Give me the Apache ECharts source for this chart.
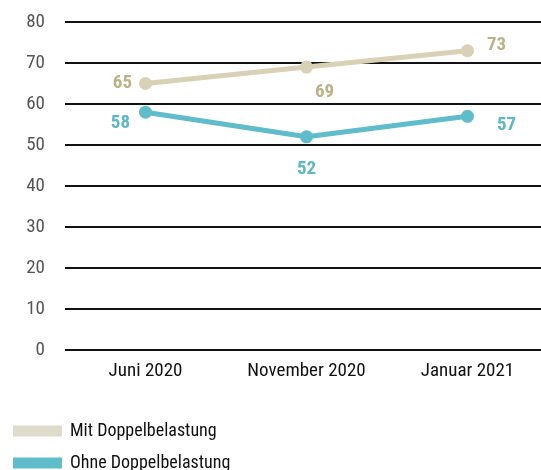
<!DOCTYPE html>
<html>
<head>
<meta charset="utf-8">
<script src="https://cdn.jsdelivr.net/npm/echarts@6/dist/echarts.min.js"></script>
<style>
  html, body { margin: 0; padding: 0; background: #fff; }
  #chart { width: 541px; height: 470px; }
</style>
</head>
<body>
<div id="chart"></div>
<script>
const categories = ['Juni 2020', 'November 2020', 'Januar 2021'];
const mitDoppel = [65, 69, 73];
const ohneDoppel = [58, 52, 57];
const yTicks = [0, 10, 20, 30, 40, 50, 60, 70, 80];

const FONT = '"Liberation Sans Narrow", "Roboto Condensed", "DejaVu Sans Condensed", sans-serif';
const MIT_LINE = '#d8d1b6', MIT_TEXT = '#bdb286';
const OHNE_LINE = '#5fbccb', OHNE_TEXT = '#5ab8c8';

// label placement per point (position + offset)
const mitLabels = [
  {position: 'left', offset: [-2, 0]},
  {position: 'bottom', offset: [18, 4]},
  {position: 'right', offset: [8, -5]}
];
const ohneLabels = [
  {position: 'left', offset: [-4, 11]},
  {position: 'bottom', offset: [0, 11]},
  {position: 'right', offset: [18, 9]}
];

function build(values, labels) {
  return values.map((v, i) => ({value: v, label: labels[i]}));
}

const legendText = {fontFamily: FONT, fontSize: 18, color: '#111', padding: [0, 0, 0, 3]};

const chart = echarts.init(document.getElementById('chart'));
chart.setOption({
  animation: false,
  textStyle: {fontFamily: FONT},
  grid: {left: 65, top: 22, right: -7, height: 328, outerBoundsMode: 'none'},
  legend: [
    {
      left: 8, top: 417, itemWidth: 49, itemHeight: 11, icon: 'rect',
      textStyle: legendText,
      data: [{name: 'Mit Doppelbelastung', itemStyle: {color: '#e0dccb'}}]
    },
    {
      left: 8, top: 449, itemWidth: 49, itemHeight: 11, icon: 'rect',
      textStyle: legendText,
      data: [{name: 'Ohne Doppelbelastung', itemStyle: {color: OHNE_LINE}}]
    }
  ],
  xAxis: {
    type: 'category', data: categories, boundaryGap: true,
    axisLine: {show: false}, axisTick: {show: false},
    axisLabel: {fontFamily: FONT, fontSize: 19, color: '#111', margin: 12}
  },
  yAxis: {
    type: 'value', min: yTicks[0], max: yTicks[yTicks.length - 1], interval: 10,
    axisLine: {show: false}, axisTick: {show: false},
    axisLabel: {fontFamily: FONT, fontSize: 19, color: '#555', margin: 20},
    splitLine: {lineStyle: {color: '#111', width: 2}}
  },
  series: [
    {
      name: 'Mit Doppelbelastung', type: 'line', data: build(mitDoppel, mitLabels),
      lineStyle: {color: MIT_LINE, width: 5}, itemStyle: {color: MIT_LINE},
      symbol: 'circle', symbolSize: 13,
      label: {show: true, color: MIT_TEXT, fontWeight: 'bold', fontSize: 19, fontFamily: FONT}
    },
    {
      name: 'Ohne Doppelbelastung', type: 'line', data: build(ohneDoppel, ohneLabels),
      lineStyle: {color: OHNE_LINE, width: 5}, itemStyle: {color: OHNE_LINE},
      symbol: 'circle', symbolSize: 13,
      label: {show: true, color: OHNE_TEXT, fontWeight: 'bold', fontSize: 19, fontFamily: FONT}
    }
  ]
});
</script>
</body>
</html>
